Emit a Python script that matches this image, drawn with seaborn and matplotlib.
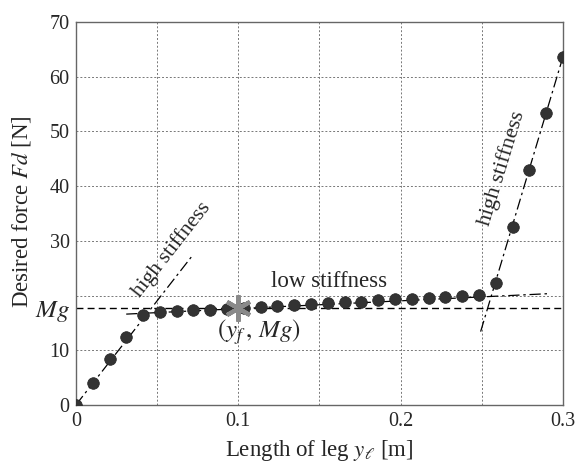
import numpy as np
import pandas as pd
import seaborn as sns
import matplotlib.pyplot as plt

# leg length [m] and desired force [N]
leg_len = [0.0, 0.0103, 0.0207, 0.0310, 0.0414, 0.0517, 0.0621, 0.0724, 0.0828, 0.0931,
           0.1034, 0.1138, 0.1241, 0.1345, 0.1448, 0.1552, 0.1655, 0.1759, 0.1862, 0.1966,
           0.2069, 0.2172, 0.2276, 0.2379, 0.2483, 0.2586, 0.2690, 0.2793, 0.2897, 0.3000]
force = [0.0, 4.1, 8.4, 12.4, 16.5, 17.0, 17.1, 17.3, 17.4, 17.6,
         17.8, 17.9, 18.1, 18.3, 18.4, 18.6, 18.8, 18.9, 19.1, 19.3,
         19.4, 19.6, 19.8, 19.9, 20.1, 22.3, 32.5, 43.0, 53.4, 63.6]

Mg = 17.64
yf = 0.1

# stiffness guide lines (endpoints)
high_left_x = [0.0, 0.0723]
high_left_y = [0.0, 27.5]
low_x = [0.031, 0.292]
low_y = [16.6, 20.35]
high_right_x = [0.2493, 0.300]
high_right_y = [13.4, 63.6]

yticks = [0, 10, Mg, 30, 40, 50, 60, 70]
ytick_labels = ['0', '10', '$Mg$', '30', '40', '50', '60', '70']
xticks = [0, 0.1, 0.2, 0.3]
xtick_labels = ['0', '0.1', '0.2', '0.3']

sns.set_style('white')
plt.rcParams['font.family'] = ['Liberation Serif', 'DejaVu Serif']
plt.rcParams['mathtext.fontset'] = 'stix'

fig = plt.figure(figsize=(5.75, 4.66), dpi=100)
ax = fig.add_axes([0.132, 0.131, 0.847, 0.822])

# grid drawn by hand (20 has a grid line but the label is Mg)
for gx in [0.05, 0.1, 0.15, 0.2, 0.25]:
    ax.axvline(gx, color='#777777', ls=(0, (2, 2)), lw=0.7, zorder=0)
for gy in [10, 20, 30, 40, 50, 60]:
    ax.axhline(gy, color='#777777', ls=(0, (2, 2)), lw=0.7, zorder=0)

ax.plot([0, 0.3], [Mg, Mg], color='black', ls=(0, (5, 3)), lw=1.0, zorder=1)

dashdot = (0, (9, 3, 2, 3))
ax.plot(high_left_x, high_left_y, color='black', ls=dashdot, lw=0.9, zorder=2)
ax.plot(low_x, low_y, color='black', ls=dashdot, lw=0.9, zorder=2)
ax.plot(high_right_x, high_right_y, color='black', ls=dashdot, lw=0.9, zorder=2)

df = pd.DataFrame({'x': leg_len, 'F': force})
sns.scatterplot(data=df, x='x', y='F', ax=ax, color='#333333', s=70,
                edgecolor='#222222', linewidth=0.5, zorder=3, legend=False)

ax.plot([yf], [Mg], marker=(6, 2, 0), markersize=19, color='#8a8a8a',
        markeredgewidth=3, zorder=4, ls='none')

ax.text(0.059, 28.4, 'high stiffness', rotation=52, ha='center', va='center', fontsize=15.5)
ax.text(0.2625, 43.3, 'high stiffness', rotation=73, ha='center', va='center', fontsize=16)
ax.text(0.156, 22.6, 'low stiffness', ha='center', va='center', fontsize=16.5)
ax.text(0.113, 13.4, '$(y_f\\,,\\,Mg)$', ha='center', va='center', fontsize=18)

ax.set_xlim(0, 0.3)
ax.set_ylim(0, 70)
ax.set_xticks(xticks)
ax.set_xticklabels(xtick_labels)
ax.set_yticks(yticks)
ax.set_yticklabels(ytick_labels)
ax.tick_params(labelsize=14.5, direction='out', color='#666666', width=0.8)
ax.tick_params(axis='x', length=0, pad=5)
ax.tick_params(axis='y', length=2.5, pad=2)
ax.get_yticklabels()[2].set_fontsize(18)
for s in ax.spines.values():
    s.set_color('#666666')
    s.set_linewidth(1.0)

ax.set_xlabel('Length of leg $y_\\ell$ [m]', fontsize=16.5, labelpad=5)
ax.set_ylabel('Desired force $Fd$ [N]', fontsize=16.5)
ax.yaxis.set_label_coords(-0.088, 0.505)

fig.savefig('out.png', dpi=100)
